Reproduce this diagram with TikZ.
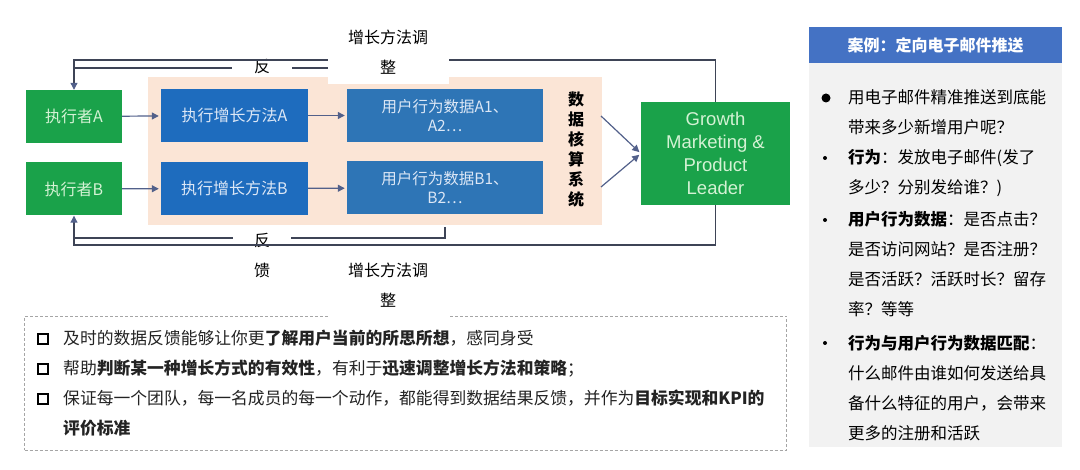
\documentclass[tikz,border=0pt]{standalone}
\usepackage{fontspec}
\setmainfont{Noto Sans CJK SC}
\newfontfamily\latinfont{Liberation Sans}
\usetikzlibrary{arrows.meta}

\definecolor{actorgreen}{RGB}{26,162,74}
\definecolor{actortext}{RGB}{212,242,212}
\definecolor{methodblue}{RGB}{30,108,190}
\definecolor{datablue}{RGB}{46,117,182}
\definecolor{boxtext}{RGB}{220,231,246}
\definecolor{calcpeach}{RGB}{251,229,214}
\definecolor{linegray}{RGB}{62,68,86}
\definecolor{arrowblue}{RGB}{82,96,138}
\definecolor{panelgray}{RGB}{242,242,242}
\definecolor{headblue}{RGB}{68,114,196}
\definecolor{dashgray}{RGB}{165,165,165}
\definecolor{notetext}{RGB}{35,35,35}

\newcommand{\setfs}[2]{\fontsize{#1}{#2}\selectfont}

\begin{document}
\begin{tikzpicture}[
    x=1pt, y=-1pt,
    actor/.style={rectangle, fill=actorgreen, text=actortext, minimum width=96pt, minimum height=53pt, font=\setfs{16}{19}},
    method/.style={rectangle, fill=methodblue, text=boxtext, minimum width=147pt, minimum height=53pt, font=\setfs{16}{19}},
    userdata/.style={rectangle, fill=datablue, text=boxtext, minimum width=196pt, minimum height=53pt, align=center, font=\setfs{15.5}{19}},
    flow/.style={draw=arrowblue, line width=1.2pt, shorten >=2pt, -{Triangle[length=7pt,width=7pt]}},
    feedback/.style={draw=linegray, line width=1.1pt},
    backarrow/.style={feedback, -{Triangle[length=7pt,width=7pt,color=arrowblue]}},
    gap/.style={fill=white, inner sep=2pt, align=center, font=\setfs{16}{30}},
    caseitem/.style={anchor=base west, align=left, inner sep=0pt, font=\setfs{16.5}{30}},
    noteitem/.style={anchor=base west, align=left, inner sep=0pt, text=notetext, font=\setfs{16.8}{30}},
    chk/.style={rectangle, draw=black, line width=1.8pt, minimum size=10pt, inner sep=0pt},
    ]
    \useasboundingbox (0,0) rectangle (1080,470);

    % data accounting area
    \node[rectangle, fill=calcpeach, minimum width=454pt, minimum height=148pt] (calc) at (375,151) {};
    \node[align=center, font=\bfseries\setfs{16}{20}] (sys) at (576,150) {数\\据\\核\\算\\系\\统};

    \coordinate (calcTop) at (445,77);
    \coordinate (calcBot) at (445,227);
    \coordinate (turnA) at (74,68);
    \coordinate (turnB) at (74,238);
    \coordinate (outerA) at (74,60);
    \coordinate (outerB) at (74,245);

    % feedback lines
    \draw[feedback] (calcTop) |- (turnA);
    \draw[feedback] (calcBot) |- (turnB);
    \node[gap, minimum width=60pt] (fbTop) at (262,67) {反};
    \node[gap, minimum width=58pt] (fbBot) at (262,255.5) {反\\馈};

    \node[actor] (actA) at (74,116.5) {执行者A};
    \node[actor] (actB) at (74,189) {执行者B};
    \node[method] (methA) at (234.5,115.5) {执行增长方法A};
    \node[method] (methB) at (234.5,188.5) {执行增长方法B};
    \node[userdata] (dataA) at (445,115.5) {用户行为数据A1、\\A2…};
    \node[userdata] (dataB) at (445,188) {用户行为数据B1、\\B2…};
    \node[rectangle, fill=actorgreen, text=actortext, minimum width=149pt, minimum height=103pt, align=center,
          font=\latinfont\setfs{18.5}{23}] (leader) at (715.5,153.5) {Growth\\Marketing \&\\Product\\Leader};

    \draw[backarrow] (leader.north) |- (outerA) -- (actA.north);
    \draw[backarrow] (leader.south) |- (outerB) -- (actB.south);

    % bottom notes
    \node[rectangle, draw=dashgray, dash pattern=on 3pt off 2pt, line width=0.8pt,
          minimum width=762pt, minimum height=134pt] (notes) at (405.5,383) {};

    \node[gap, minimum width=121pt, minimum height=64pt] (adjTop) at (388,52) {增长方法调\\整};
    \node[gap, minimum width=121pt, minimum height=68pt] (adjBot) at (388,285) {增长方法调\\整};

    % edges
    \draw[flow] (actA) -- (methA);
    \draw[flow] (actB) -- (methB);
    \draw[flow] (methA) -- (dataA);
    \draw[flow] (methB) -- (dataB);
    \coordinate (outA) at (601,116);
    \coordinate (outB) at (601,187);
    \draw[flow] (outA) -- (leader.west);
    \draw[flow] (outB) -- (leader.west);

    % base of a multi-line item = baseline of its last line
    \node[chk] (chk1) at (43,339) {};
    \node[chk] (chk2) at (43,369) {};
    \node[chk] (chk3) at (43,399) {};
    \node[noteitem] (note1) at (63,345) {及时的数据反馈能够让你更\textbf{了解用户当前的所思所想}，感同身受};
    \node[noteitem] (note2) at (63,375) {帮助\textbf{判断某一种增长方式的有效性}，有利于\textbf{迅速调整增长方法和策略}；};
    \node[noteitem] (note3) at (63,435) {保证每一个团队，每一名成员的每一个动作，都能得到数据结果反馈，并作为\textbf{目标实现和KPI的}\\\textbf{评价标准}};

    % case panel
    \node[rectangle, fill=panelgray, minimum width=253pt, minimum height=420pt] (panel) at (935.5,237) {};
    \node[rectangle, fill=headblue, text=white, minimum width=253pt, minimum height=36pt,
          font=\bfseries\setfs{16}{19}] (caseHead) at (935.5,45) {案例：定向电子邮件推送};

    \node[circle, fill=black, minimum size=9pt, inner sep=0pt] (dot1) at (826,98) {};
    \node[circle, fill=black, minimum size=4pt, inner sep=0pt] (dot2) at (825,158) {};
    \node[circle, fill=black, minimum size=4pt, inner sep=0pt] (dot3) at (825,220) {};
    \node[circle, fill=black, minimum size=4pt, inner sep=0pt] (dot4) at (825,343) {};

    \node[caseitem] (item1) at (848,134) {用电子邮件精准推送到底能\\带来多少新增用户呢？};
    \node[caseitem] (item2) at (848,194) {\textbf{行为}：发放电子邮件(发了\\多少？分别发给谁？)};
    \node[caseitem] (item3) at (848,316) {\textbf{用户行为数据}：是否点击？\\是否访问网站？是否注册？\\是否活跃？活跃时长？留存\\率？等等};
    \node[caseitem] (item4) at (848,439) {\textbf{行为与用户行为数据匹配}：\\什么邮件由谁如何发送给具\\备什么特征的用户，会带来\\更多的注册和活跃};

  \end{tikzpicture}
\end{document}
